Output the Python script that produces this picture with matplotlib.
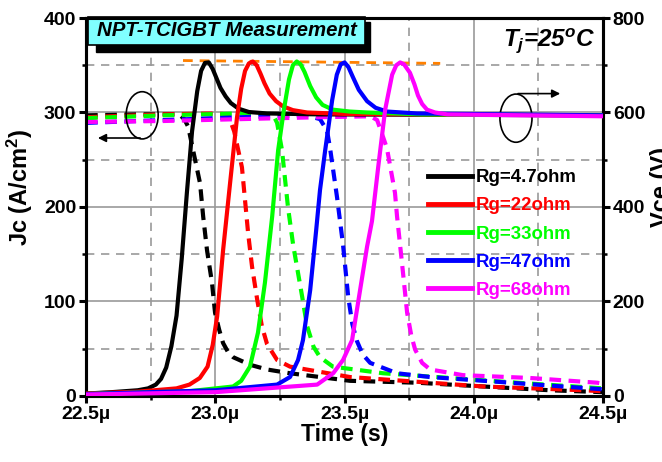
import matplotlib
matplotlib.use("Agg")
import matplotlib.pyplot as plt
from matplotlib.patches import Ellipse, Rectangle
from matplotlib.ticker import MultipleLocator, FuncFormatter

plt.rcParams['font.family'] = ['Liberation Sans', 'DejaVu Sans']
plt.rcParams['font.weight'] = 'bold'
plt.rcParams['mathtext.fontset'] = 'custom'
plt.rcParams['mathtext.rm'] = 'Liberation Sans:bold'
plt.rcParams['mathtext.it'] = 'Liberation Sans:bold:italic'
plt.rcParams['mathtext.bf'] = 'Liberation Sans:bold'

# gate resistances and colours
labels = ['Rg=4.7ohm', 'Rg=22ohm', 'Rg=33ohm', 'Rg=47ohm', 'Rg=68ohm']
colors = ['#000000', '#ff0000', '#00ff00', '#0000ff', '#ff00ff']

# collector voltage Vce (V) vs time (us), solid curves
t_v_4p7 = [22.50, 22.60, 22.70, 22.74, 22.77, 22.79, 22.81, 22.83, 22.85, 22.87, 22.89, 22.91,
           22.93, 22.945, 22.96, 22.975, 22.99, 23.005, 23.02, 23.04, 23.06, 23.09, 23.13, 23.20,
           23.40, 24.50]
v_4p7 = [5, 8, 12, 16, 24, 36, 60, 105, 170, 290, 430, 560, 645, 688, 705, 706, 692, 672, 652,
         634, 620, 608, 601, 598, 596, 594]

t_v_22 = [22.50, 22.70, 22.85, 22.90, 22.94, 22.97, 22.99, 23.007, 23.03, 23.057, 23.084, 23.10,
          23.115, 23.13, 23.145, 23.16, 23.175, 23.19, 23.21, 23.235, 23.262, 23.30, 23.355, 23.50,
          24.50]
v_22 = [5, 9, 16, 24, 38, 62, 108, 168, 308, 450, 590, 650, 688, 704, 708, 700, 682, 662, 640,
        624, 613, 605, 600, 597, 594]

t_v_33 = [22.50, 22.90, 23.069, 23.10, 23.134, 23.165, 23.192, 23.22, 23.243, 23.265, 23.285, 23.30,
          23.315, 23.33, 23.345, 23.367, 23.39, 23.415, 23.455, 23.52, 23.587, 23.80, 24.50]
v_33 = [4, 10, 20, 32, 62, 134, 240, 380, 520, 605, 670, 700, 708, 702, 686, 656, 632, 616, 606,
        602, 600, 596, 594]

t_v_47 = [22.50, 23.00, 23.239, 23.289, 23.32, 23.339, 23.367, 23.39, 23.405, 23.425, 23.452, 23.47,
          23.485, 23.50, 23.515, 23.533, 23.555, 23.587, 23.62, 23.664, 23.78, 24.50]
v_47 = [4, 12, 24, 40, 76, 118, 224, 350, 436, 520, 626, 680, 702, 706, 696, 674, 648, 624, 610,
        602, 598, 594]

t_v_68 = [22.50, 23.00, 23.394, 23.456, 23.494, 23.529, 23.56, 23.587, 23.606, 23.63, 23.657, 23.684,
          23.70, 23.715, 23.73, 23.753, 23.77, 23.784, 23.80, 23.819, 23.85, 23.897, 24.50]
v_68 = [3, 8, 24, 48, 76, 118, 224, 316, 370, 484, 606, 680, 700, 706, 702, 684, 660, 636, 618,
        606, 600, 596, 592]

# collector current density Jc (A/cm2) vs time (us), dashed curves
t_j_4p7 = [22.50, 22.70, 22.86, 22.88, 22.895, 22.914, 22.941, 22.953, 22.968, 22.987, 22.999, 23.015,
           23.03, 23.05, 23.069, 23.134, 23.20, 23.289, 23.521, 23.78, 24.036, 24.295, 24.50]
j_4p7 = [297, 298, 298, 293, 285, 260, 225, 190, 154, 120, 88, 70, 56, 46, 41, 33, 28, 24, 16, 14,
         10, 6, 4]

t_j_22 = [22.50, 22.80, 23.00, 23.049, 23.073, 23.103, 23.115, 23.127, 23.142, 23.162, 23.18, 23.20,
          23.239, 23.289, 23.521, 23.78, 24.036, 24.423, 24.50]
j_22 = [295, 298, 299, 298, 280, 242, 207, 172, 137, 102, 74, 55, 38, 31, 20, 15, 10, 6, 5]

t_j_33 = [22.50, 22.80, 23.10, 23.223, 23.239, 23.258, 23.281, 23.301, 23.336, 23.355, 23.38, 23.405,
          23.455, 23.649, 23.908, 24.167, 24.50]
j_33 = [294, 297, 299, 298, 289, 260, 200, 160, 105, 74, 52, 41, 31, 24, 19, 14, 8]

t_j_47 = [22.50, 22.80, 23.10, 23.35, 23.405, 23.432, 23.444, 23.471, 23.494, 23.514, 23.53, 23.548,
          23.57, 23.599, 23.703, 23.831, 24.09, 24.345, 24.50]
j_47 = [289, 292, 295, 297, 293, 281, 262, 210, 160, 105, 76, 58, 44, 35, 24, 20, 15, 10, 7]

t_j_68 = [22.50, 22.80, 23.10, 23.40, 23.60, 23.626, 23.649, 23.664, 23.695, 23.703, 23.722, 23.742,
          23.758, 23.773, 23.80, 23.831, 23.958, 24.218, 24.477, 24.50]
j_68 = [290, 291, 293, 295, 296, 292, 274, 262, 215, 190, 141, 88, 64, 49, 35, 28, 22, 19, 14, 13]

# peak voltage level
peak_t = [22.875, 23.87]
peak_v = [710, 704]

volt_curves = [(t_v_4p7, v_4p7), (t_v_22, v_22), (t_v_33, v_33), (t_v_47, v_47), (t_v_68, v_68)]
curr_curves = [(t_j_4p7, j_4p7), (t_j_22, j_22), (t_j_33, j_33), (t_j_47, j_47), (t_j_68, j_68)]

fig = plt.figure(figsize=(6.62, 4.62), dpi=100)
ax = fig.add_axes([0.130, 0.143, 0.781, 0.818])
ax2 = ax.twinx()

for (t, j), c in zip(curr_curves, colors):
    ax.plot(t, j, color=c, lw=3.0, ls=(0, (2.8, 1.8)), solid_joinstyle='round', zorder=3)

handles = []
for (t, v), c, lab in zip(volt_curves, colors, labels):
    h, = ax2.plot(t, v, color=c, lw=3.0, label=lab, solid_joinstyle='round', zorder=3)
    handles.append(h)
ax2.plot(peak_t, peak_v, color='#ff8000', lw=2.0, ls=(0, (3.5, 2.5)), zorder=2)

ax.set_xlim(22.5, 24.5)
ax.set_ylim(0, 400)
ax2.set_ylim(0, 800)

ax.xaxis.set_major_locator(MultipleLocator(0.5))
ax.xaxis.set_minor_locator(MultipleLocator(0.25))
ax.xaxis.set_major_formatter(FuncFormatter(lambda x, p: f"{x:.1f}\u00b5"))
ax.yaxis.set_major_locator(MultipleLocator(100))
ax.yaxis.set_minor_locator(MultipleLocator(50))
ax2.yaxis.set_major_locator(MultipleLocator(200))
ax2.yaxis.set_minor_locator(MultipleLocator(100))

ax.grid(which='major', color='#999999', ls='-', lw=1.2)
ax.grid(which='minor', color='#999999', ls=(0, (5, 4)), lw=1.2)
ax.set_axisbelow(True)

for a in (ax, ax2):
    for s in a.spines.values():
        s.set_linewidth(2.2)
    a.tick_params(which='major', direction='out', length=5, width=2.2, labelsize=14, pad=2)
    a.tick_params(which='minor', direction='out', length=3, width=1.8)

ax.set_xlabel('Time (s)', fontsize=16.5, fontweight='bold', labelpad=0)
ax.set_ylabel('Jc (A/cm$^{2}$)', fontsize=17, fontweight='bold')
ax2.set_ylabel('Vce (V)', fontsize=17, fontweight='bold')
ax.yaxis.set_label_coords(-0.099, 0.553)
ax2.yaxis.set_label_coords(1.091, 0.553)

# title box with shadow
ax.add_patch(Rectangle((0.02, 0.91), 0.53, 0.08, transform=ax.transAxes, facecolor='black',
                       edgecolor='black', clip_on=False, zorder=5))
ax.add_patch(Rectangle((0.004, 0.929), 0.536, 0.074, transform=ax.transAxes, facecolor='#80ffff',
                       edgecolor='black', lw=1.2, clip_on=False, zorder=6))
ax.text(0.272, 0.966, 'NPT-TCIGBT Measurement', transform=ax.transAxes, ha='center', va='center',
        fontsize=14.7, fontweight='bold', fontstyle='italic', zorder=7)

ax.text(0.985, 0.94, '$T_j$=25$^o$C', transform=ax.transAxes, ha='right', va='center',
        fontsize=17.5, fontweight='bold', fontstyle='italic')

# axis markers: current (left) and voltage (right)
ax.add_patch(Ellipse((22.717, 297), 0.124, 50, fill=False, ec='black', lw=1.2, zorder=4))
ax.annotate('', xy=(22.535, 273), xytext=(22.72, 273),
            arrowprops=dict(arrowstyle='-|>', color='black', lw=1.2, mutation_scale=12))
ax.add_patch(Ellipse((24.163, 294), 0.124, 51, fill=False, ec='black', lw=1.2, zorder=4))
ax.annotate('', xy=(24.345, 320), xytext=(24.16, 320),
            arrowprops=dict(arrowstyle='-|>', color='black', lw=1.2, mutation_scale=12))

leg = ax2.legend(handles=handles, loc='upper left', bbox_to_anchor=(0.661, 0.600), frameon=False,
                 fontsize=13.4, handlelength=2.4, handletextpad=0.2, labelspacing=0.6,
                 borderaxespad=0, borderpad=0)
for txt, c in zip(leg.get_texts(), colors):
    txt.set_color(c)
    txt.set_fontweight('bold')
for line in leg.get_lines():
    line.set_linewidth(3.5)

fig.savefig('out.png', dpi=100)
